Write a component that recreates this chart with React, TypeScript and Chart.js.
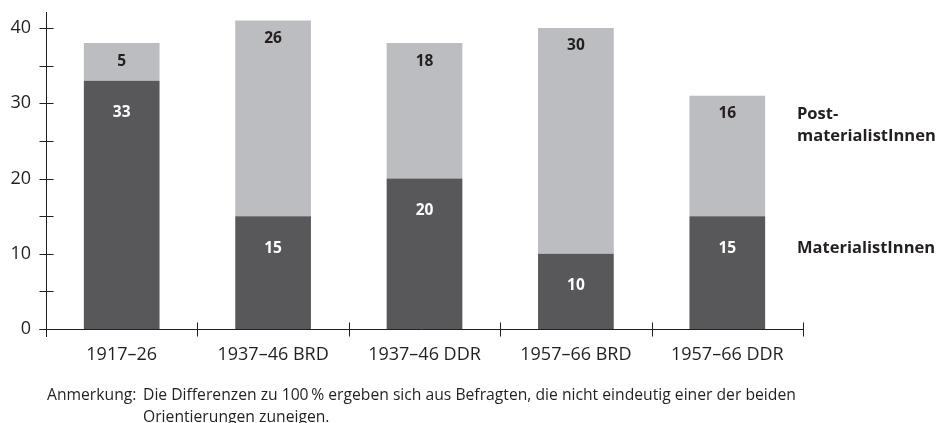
import React, { useEffect, useRef } from "react";
import { Chart, registerables } from "chart.js";

Chart.register(...registerables);

const categories = ["1917–26", "1937–46 BRD", "1937–46 DDR", "1957–66 BRD", "1957–66 DDR"];
const materialisten = [33, 15, 20, 10, 15];
const postmaterialisten = [5, 26, 18, 30, 16];
const yTickValues = [0, 5, 10, 15, 20, 25, 30, 35, 40];
const yTickLabels = [0, 10, 20, 30, 40];
const seriesLabelMaterial = ["MaterialistInnen"];
const seriesLabelPost = ["Post-", "materialistInnen"];
const noteLabel = "Anmerkung:";
const noteLines = [
  "Die Differenzen zu 100\u2009% ergeben sich aus Befragten, die nicht eindeutig einer der beiden",
  "Orientierungen zuneigen.",
];

const FONT = "'Open Sans', 'Noto Sans', sans-serif";
const INK = "#231f20";
const DARK = "#58585a";
const LIGHT = "#bcbdc0";

const axesPlugin = {
  id: "crossAxes",
  afterDraw(chart: any) {
    const ctx = chart.ctx;
    const { left, right, top, bottom } = chart.chartArea;
    const ys = chart.scales.y;
    const xs = chart.scales.x;
    const lx = Math.round(left) + 0.5;
    const by = Math.round(bottom) + 0.5;
    ctx.save();
    ctx.strokeStyle = INK;
    ctx.lineWidth = 1;
    ctx.beginPath();
    ctx.moveTo(lx, top - 1);
    ctx.lineTo(lx, bottom + 8);
    ys.ticks.forEach((t: any) => {
      const y = Math.round(ys.getPixelForValue(t.value)) + 0.5;
      ctx.moveTo(lx - 7, y);
      ctx.lineTo(lx + 7, y);
    });
    ctx.moveTo(lx - 7, by);
    ctx.lineTo(right, by);
    const n = categories.length;
    const bounds: number[] = [];
    for (let i = 1; i < n; i++) {
      bounds.push((xs.getPixelForValue(i - 1) + xs.getPixelForValue(i)) / 2);
    }
    bounds.push(right);
    bounds.forEach((bx) => {
      const x = Math.round(bx) + 0.5;
      ctx.moveTo(x, by - 7);
      ctx.lineTo(x, by + 7);
    });
    ctx.stroke();
    ctx.restore();
  },
};

const labelsPlugin = {
  id: "barLabels",
  afterDatasetsDraw(chart: any) {
    const ctx = chart.ctx;
    ctx.save();
    ctx.font = `bold 15.5px ${FONT}`;
    ctx.textAlign = "center";
    ctx.textBaseline = "middle";
    const offsets = [32, 18];
    const colors = ["#ffffff", INK];
    chart.data.datasets.forEach((ds: any, di: number) => {
      const meta = chart.getDatasetMeta(di);
      meta.data.forEach((bar: any, i: number) => {
        ctx.fillStyle = colors[di];
        ctx.fillText(String(ds.data[i]), bar.x, bar.y + offsets[di]);
      });
    });
    // series labels to the right, aligned with last bar's labels
    const last = categories.length - 1;
    const x = chart.chartArea.right - 6;
    ctx.font = `bold 16.5px ${FONT}`;
    ctx.textAlign = "left";
    ctx.fillStyle = INK;
    const darkBar = chart.getDatasetMeta(0).data[last];
    const lightBar = chart.getDatasetMeta(1).data[last];
    seriesLabelMaterial.forEach((s, k) => ctx.fillText(s, x, darkBar.y + offsets[0] + k * 22));
    seriesLabelPost.forEach((s, k) => ctx.fillText(s, x, lightBar.y + offsets[1] + 1 + k * 22));
    ctx.restore();
  },
};

export default function App() {
  const ref = useRef<HTMLCanvasElement>(null);
  useEffect(() => {
    if (!ref.current) return;
    const chart = new Chart(ref.current, {
      type: "bar",
      data: {
        labels: categories,
        datasets: [
          {
            label: "MaterialistInnen",
            data: materialisten,
            backgroundColor: DARK,
            barPercentage: 0.5,
            categoryPercentage: 1,
          },
          {
            label: "PostmaterialistInnen",
            data: postmaterialisten,
            backgroundColor: LIGHT,
            barPercentage: 0.5,
            categoryPercentage: 1,
          },
        ],
      },
      options: {
        animation: false,
        responsive: false,
        events: [],
        layout: { padding: { left: 0, top: 13, right: 136, bottom: 0 } },
        plugins: { legend: { display: false }, tooltip: { enabled: false } },
        scales: {
          x: {
            stacked: true,
            grid: { display: false, drawTicks: false },
            border: { display: false },
            ticks: { font: { family: FONT, size: 18 }, color: INK, padding: 15, maxRotation: 0 },
            afterFit: (s: any) => {
              s.height = 94;
              s.paddingLeft = 0;
              s.paddingRight = 0;
            },
          },
          y: {
            stacked: true,
            min: 0,
            max: 42,
            grid: { display: false, drawTicks: false },
            border: { display: false },
            ticks: {
              font: { family: FONT, size: 18 },
              color: INK,
              padding: 15,
              autoSkip: false,
              callback: (v: any) => (yTickLabels.includes(Number(v)) ? String(v) : ""),
            },
            afterBuildTicks: (s: any) => {
              s.ticks = yTickValues.map((v) => ({ value: v }));
            },
            afterFit: (s: any) => {
              s.width = 46;
              s.paddingTop = 0;
              s.paddingBottom = 0;
            },
          },
        },
      },
      plugins: [axesPlugin, labelsPlugin],
    });
    return () => chart.destroy();
  }, []);

  return (
    <div style={{ position: "absolute", left: 0, top: 0, width: 939, height: 423, background: "#fff", overflow: "hidden" }}>
      <canvas ref={ref} width={939} height={423} style={{ display: "block" }} />
      <div
        style={{
          position: "absolute",
          left: 47,
          top: 383,
          display: "flex",
          fontFamily: FONT,
          fontSize: 15.7,
          lineHeight: "22px",
          color: INK,
        }}
      >
        <div style={{ width: 96, flex: "none" }}>{noteLabel}</div>
        <div>
          {noteLines.map((l, i) => (
            <div key={i} style={{ whiteSpace: "nowrap" }}>{l}</div>
          ))}
        </div>
      </div>
    </div>
  );
}
